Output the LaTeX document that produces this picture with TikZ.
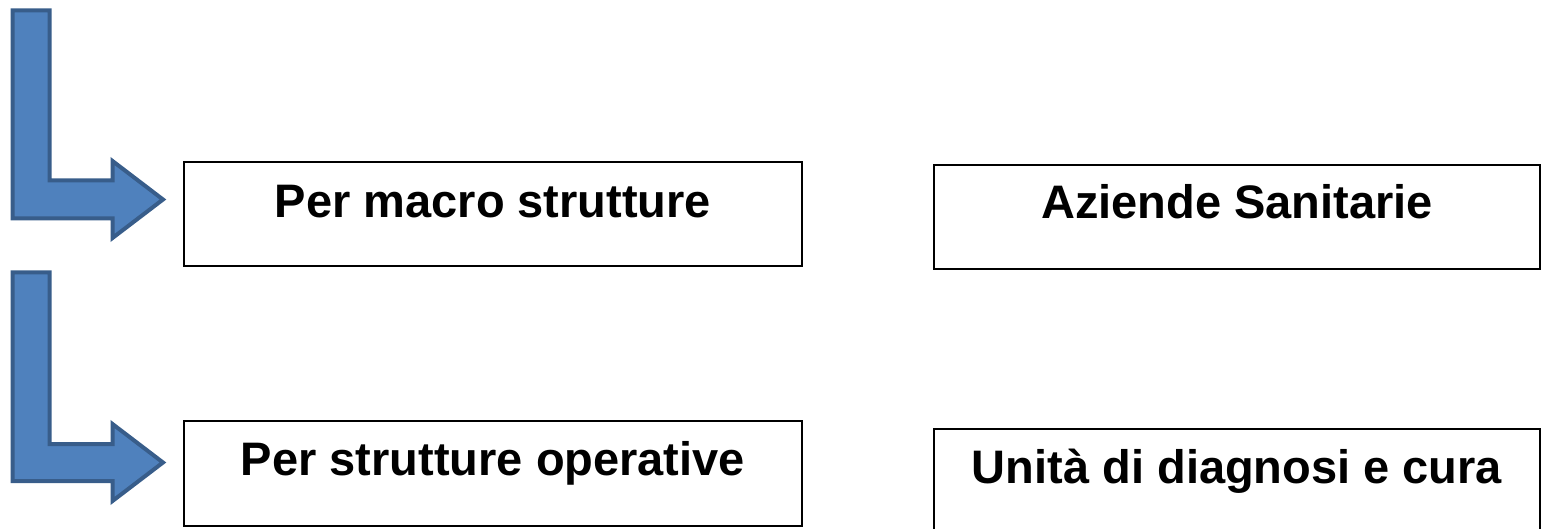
\documentclass[tikz,border=0pt]{standalone}
\usepackage{fontspec}
\setmainfont{Liberation Sans}
\definecolor{arrfill}{HTML}{4F81BD}
\definecolor{arrline}{HTML}{385D8A}
\tikzset{
  bentarrow/.style={fill=arrfill, draw=arrline, line width=4pt, line join=miter},
  boxnode/.style={draw=black, line width=2pt, fill=white, inner sep=0pt},
  txt/.style={font=\bfseries\fontsize{47}{50}\selectfont, inner sep=0pt, anchor=base}
}
\begin{document}
\begin{tikzpicture}[x=1pt,y=-1pt]
\useasboundingbox (0,0) rectangle (1542,529);
% bent arrows
\draw[bentarrow] (12.5,10.5) -- (49.5,10.5) -- (49.5,180.5) -- (112.5,180.5) -- (112.5,161) -- (163,199.5) -- (112.5,238) -- (112.5,218.5) -- (12.5,218.5) -- cycle;
\draw[bentarrow] (12.5,272.5) -- (49.5,272.5) -- (49.5,444) -- (112.5,444) -- (112.5,424) -- (163,462.5) -- (112.5,501) -- (112.5,481) -- (12.5,481) -- cycle;
% boxes
\node[boxnode, minimum width=618pt, minimum height=103.5pt] (b1) at (493,214.25) {};
\node[boxnode, minimum width=618pt, minimum height=105pt] (b2) at (493,473.5) {};
\node[boxnode, minimum width=606pt, minimum height=104pt] (b3) at (1237,217) {};
\node[boxnode, minimum width=606pt, minimum height=106pt] (b4) at (1237,482) {};
% labels
\node[txt] (t1) at ([yshift=-56pt]b1.north) {Per macro strutture};
\node[txt] (t2) at ([yshift=-55pt]b2.north) {Per strutture operative};
\node[txt] (t3) at ([yshift=-55pt]b3.north) {Aziende Sanitarie};
\node[txt] (t4) at ([yshift=-55pt]b4.north) {Unità di diagnosi e cura};
\end{tikzpicture}
\end{document}
